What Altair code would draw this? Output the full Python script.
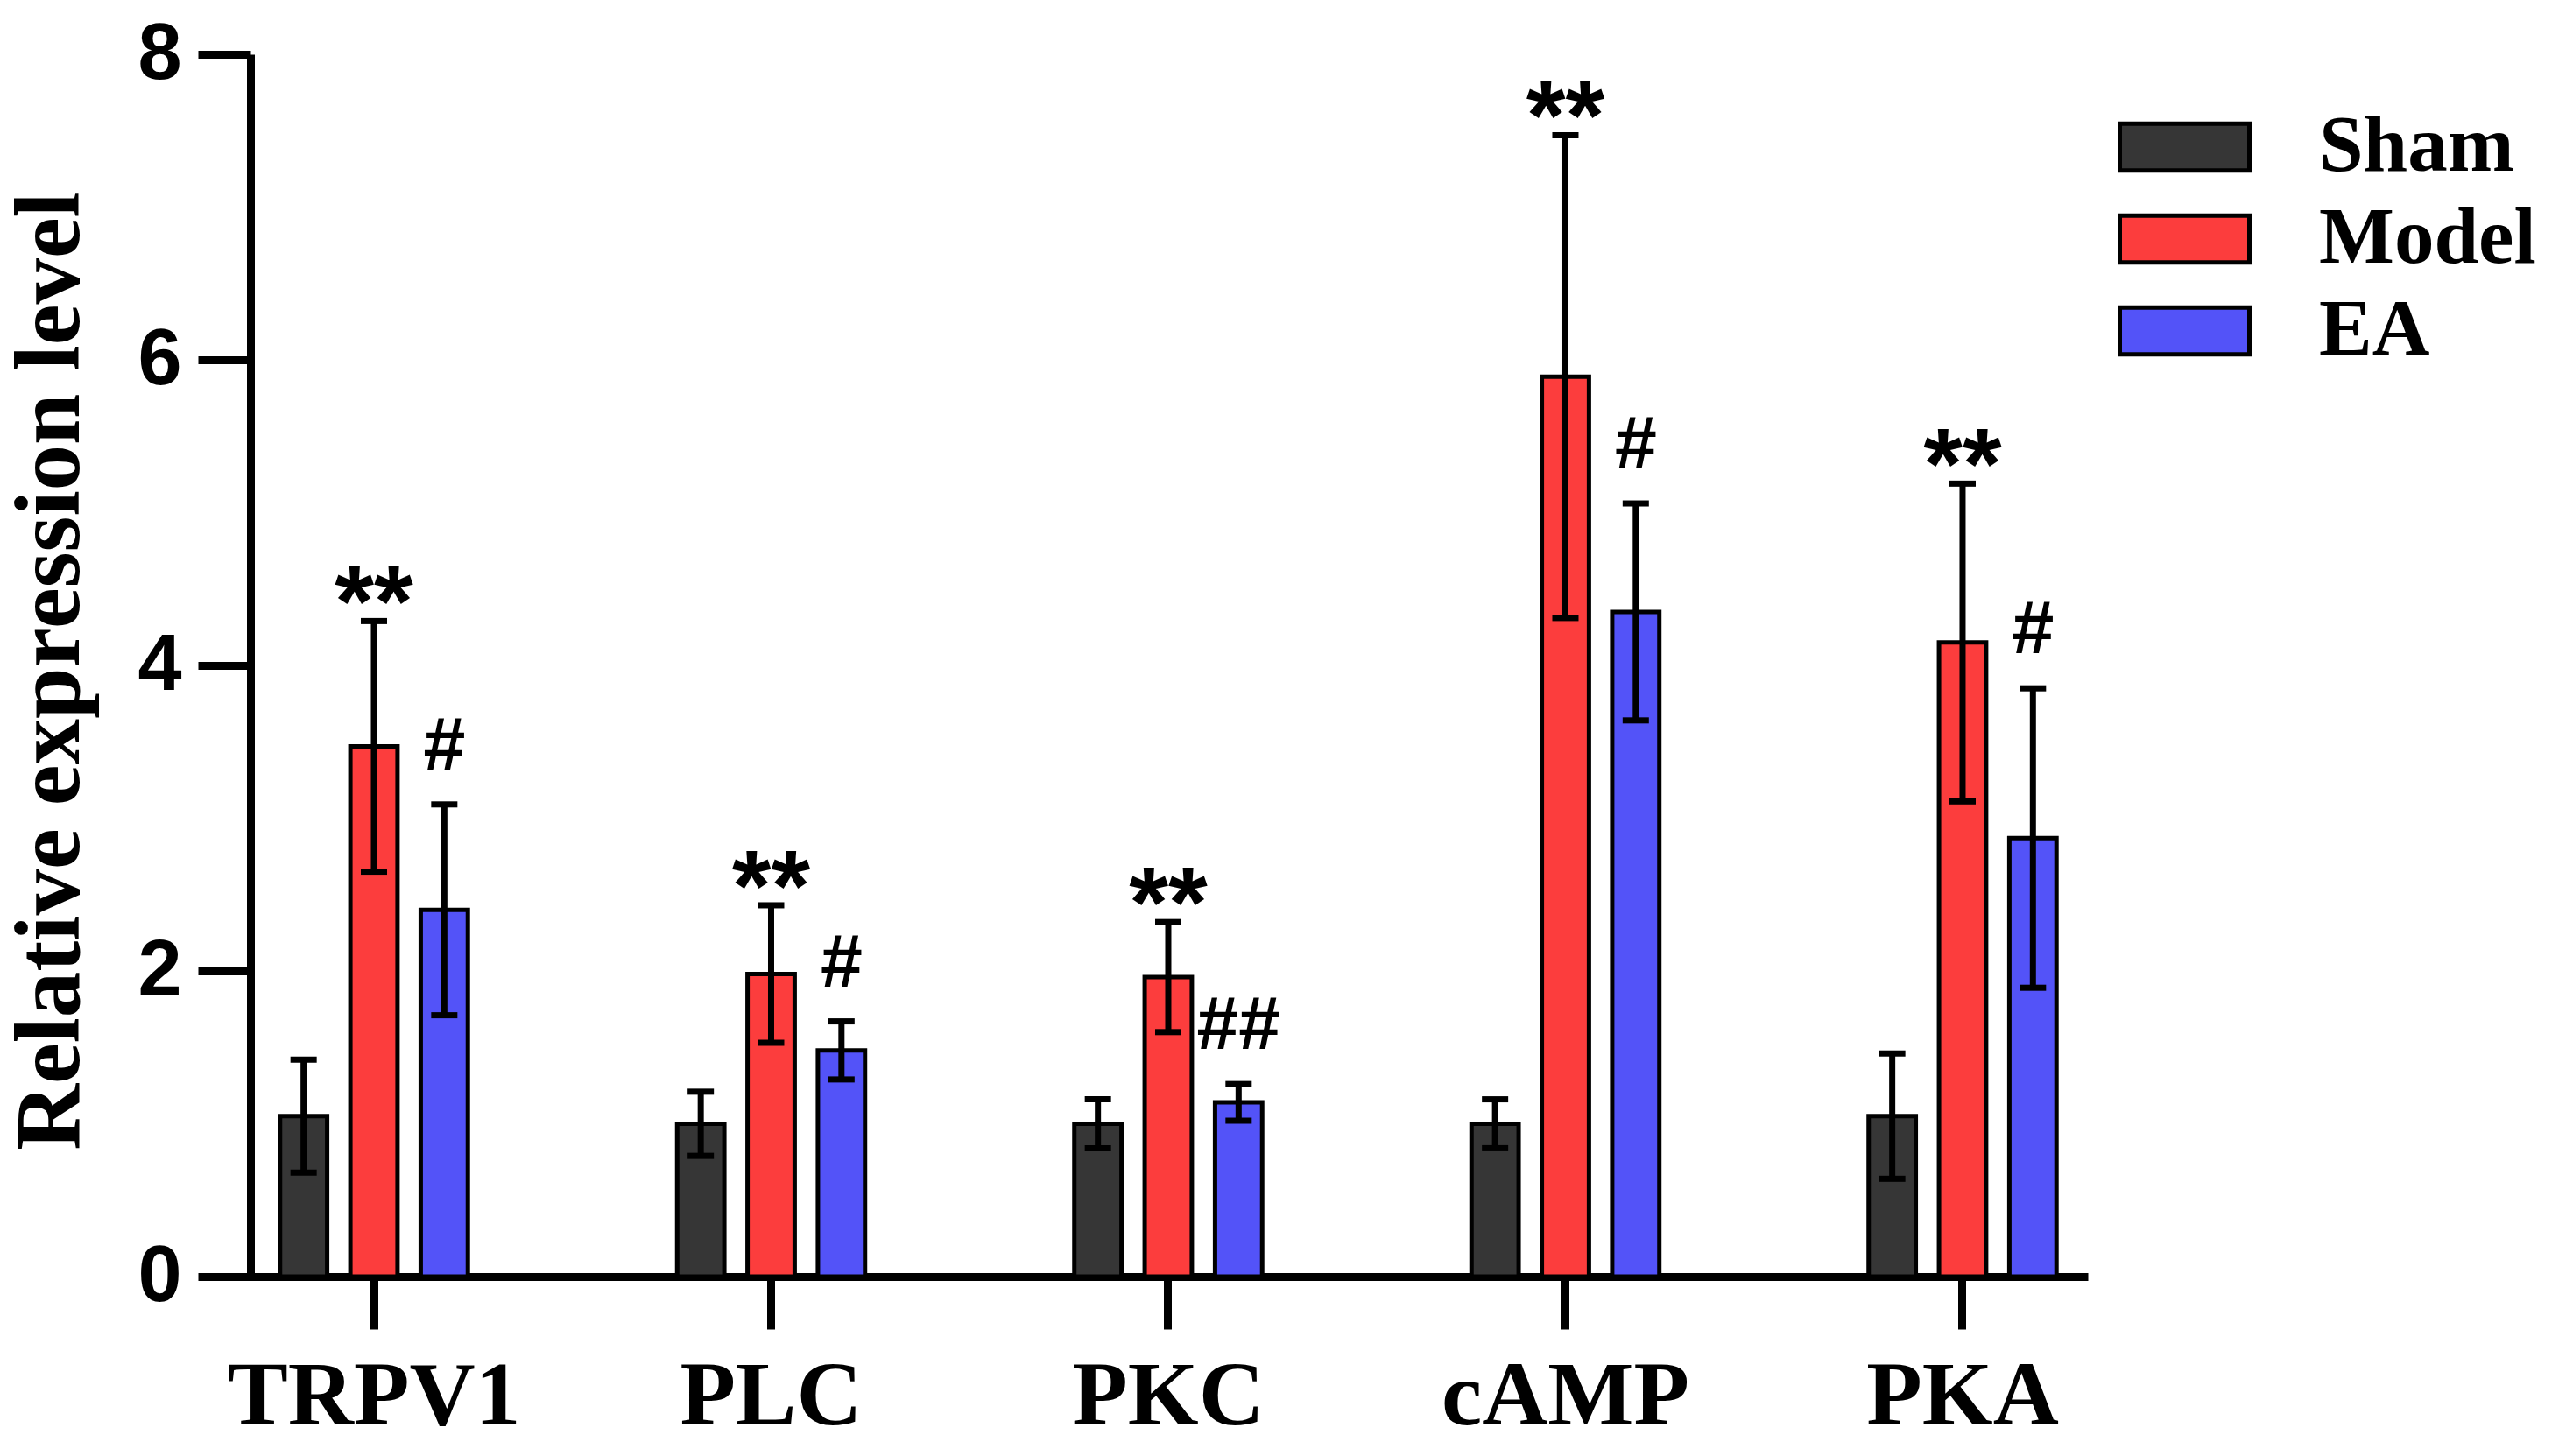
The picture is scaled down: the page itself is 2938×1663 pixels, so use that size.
import altair as alt
import pandas as pd

categories = ["TRPV1", "PLC", "PKC", "cAMP", "PKA"]
groups = ["Sham", "Model", "EA"]
colors = ["#363636", "#FC3D3D", "#5353F8"]

sham_mean = [1.05, 1.00, 1.00, 1.00, 1.05]
sham_sd = [0.37, 0.21, 0.16, 0.16, 0.41]
model_mean = [3.47, 1.98, 1.96, 5.89, 4.15]
model_sd = [0.82, 0.45, 0.36, 1.58, 1.04]
ea_mean = [2.40, 1.48, 1.14, 4.35, 2.87]
ea_sd = [0.69, 0.19, 0.12, 0.71, 0.98]
sham_sig = ["", "", "", "", ""]
model_sig = ["**", "**", "**", "**", "**"]
ea_sig = ["#", "#", "##", "#", "#"]
y_ticks = [0, 2, 4, 6, 8]

rows = []
for g, means, sds, sigs in [("Sham", sham_mean, sham_sd, sham_sig),
                            ("Model", model_mean, model_sd, model_sig),
                            ("EA", ea_mean, ea_sd, ea_sig)]:
    for c, m, s, t in zip(categories, means, sds, sigs):
        rows.append(dict(cat=c, group=g, mean=m, lo=m - s, hi=m + s, sig=t))
df = pd.DataFrame(rows)

W, H = 2156, 1396
SERIF = "Liberation Serif"
SANS = "Liberation Sans"

x = alt.X("cat:N", sort=categories,
          scale=alt.Scale(paddingInner=0.4686, paddingOuter=0.1114, align=0.777),
          axis=alt.Axis(title=None, labelFont=SERIF, labelFontWeight="bold",
                        labelFontSize=104, labelColor="black", labelPadding=26,
                        labelAngle=0, labelLimit=0, tickSize=60, tickWidth=9,
                        tickColor="black", domainWidth=9, domainColor="black",
                        grid=False))
xo = alt.XOffset("group:N", sort=groups,
                 scale=alt.Scale(domain=groups, paddingInner=0.33, paddingOuter=0.165))
yax = alt.Axis(values=y_ticks, format="d", title="Relative expression level", offset=-58,
               grid=False, labelFont=SANS, labelFontWeight="bold", labelFontSize=90,
               labelColor="black", labelPadding=19, labelLimit=0, tickSize=60, tickWidth=9,
               tickColor="black", domainWidth=9, domainColor="black",
               titleFont=SERIF, titleFontWeight="bold", titleFontSize=105,
               titleColor="black", titleX=-197, titleY=704, titleAngle=270,
               titleBaseline="alphabetic", titleAlign="center", titleLimit=0)
yscale = alt.Scale(domain=[0, 8], nice=False)

color = alt.Color("group:N", sort=groups,
                  scale=alt.Scale(domain=groups, range=colors),
                  legend=alt.Legend(title=None, orient="none", legendX=2190, legendY=56,
                                    symbolType="M-1,-0.36H1V0.36H-1Z", symbolSize=21904,
                                    symbolStrokeColor="black", symbolStrokeWidth=5,
                                    symbolOpacity=1, labelFont=SERIF, labelFontWeight="bold",
                                    labelFontSize=91, labelColor="black", labelOffset=77,
                                    labelLimit=0, clipHeight=100, rowPadding=5, padding=0))

base = alt.Chart(df)
bars = base.mark_bar(stroke="black", strokeWidth=5).encode(
    x=x, xOffset=xo, y=alt.Y("mean:Q", scale=yscale, axis=yax), color=color)
err = base.mark_rule(color="black", strokeWidth=7).encode(
    x=x, xOffset=xo, y=alt.Y("lo:Q", scale=yscale), y2="hi:Q")
cap_hi = base.mark_tick(color="black", size=30, thickness=7, opacity=1).encode(
    x=x, xOffset=xo, y=alt.Y("hi:Q", scale=yscale))
cap_lo = base.mark_tick(color="black", size=30, thickness=7, opacity=1).encode(
    x=x, xOffset=xo, y=alt.Y("lo:Q", scale=yscale))
star = base.transform_filter(alt.datum.group == "Model").mark_text(
    font=SANS, fontWeight="bold", fontSize=115, baseline="alphabetic", dy=17,
    color="black").encode(x=x, xOffset=xo, y=alt.Y("hi:Q", scale=yscale), text="sig:N")
hash_ = base.transform_filter(alt.datum.group == "EA").mark_text(
    font=SANS, fontWeight="bold", fontSize=86, baseline="alphabetic", dy=-40,
    color="black").encode(x=x, xOffset=xo, y=alt.Y("hi:Q", scale=yscale), text="sig:N")

chart = alt.layer(bars, err, cap_hi, cap_lo, star, hash_).properties(
    width=W, height=H,
    autosize=alt.AutoSizeParams(type="none"),
    padding={"left": 220, "top": 54, "right": 546, "bottom": 197},
).configure(background="white").configure_view(stroke="transparent", strokeWidth=0)

chart.save("out.html", embed_options={"renderer": "svg", "actions": False})
